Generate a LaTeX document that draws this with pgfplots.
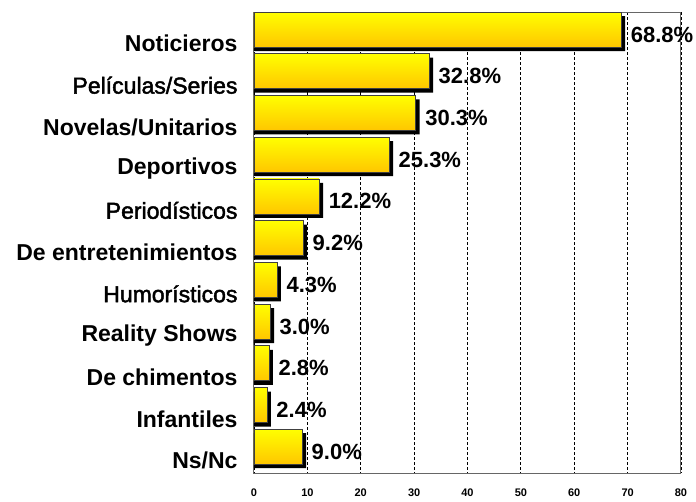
\documentclass[border=0pt]{standalone}
\usepackage{pgfplots}
\usepackage{pgfplotstable}
\pgfplotsset{compat=1.18}
\usepackage{fontspec}
\setmainfont{Liberation Sans}
\newfontfamily\semib[FakeBold=2]{Liberation Sans}
\definecolor{barbot}{RGB}{255,198,0}
\definecolor{bartop}{RGB}{255,255,0}
\pgfplotstableread{
i v
0 68.8
1 32.8
2 30.3
3 25.3
4 12.2
5 9.2
6 4.3
7 3.0
8 2.8
9 2.4
10 9.0
}\data
\begin{document}
\begin{tikzpicture}
\begin{axis}[
  at={(254pt,28pt)}, anchor=south west,
  scale only axis, width=427pt, height=461pt,
  xbar, bar width=35pt,
  xmin=0, xmax=80, ymin=-0.42, ymax=10.63,
  y dir=reverse,
  ytick={0,...,10},
  yticklabels={\textbf{Noticieros},{\semib Películas/Series},\textbf{Novelas/Unitarios},\textbf{Deportivos},{\semib Periodísticos},\textbf{De entretenimientos},{\semib Humorísticos},\textbf{Reality Shows},\textbf{De chimentos},\textbf{Infantiles},\textbf{Ns/Nc}},
  yticklabel style={font=\fontsize{23}{26}\selectfont, xshift=-13pt, yshift=-14pt},
  xtick={0,10,...,80},
  xticklabel style={font=\fontsize{11}{13}\selectfont\bfseries, yshift=-12pt},
  /pgf/number format/assume math mode=true,
  major tick length=0pt,
  xmajorgrids, grid style={black, line width=0.9pt, dash pattern=on 2.5pt off 2.5pt},
  axis line style={black!60, line width=1pt},
  point meta=x,
]
\addplot[fill=black, draw=none, bar shift=-4pt] table[x expr=\thisrow{v}+0.75, y=i] {\data};
\pgfplotsinvokeforeach{0,...,10}{
\addplot[draw=black!75, line width=0.6pt, top color=bartop, bottom color=barbot, bar shift=0pt,
  nodes near coords={\pgfmathprintnumber[fixed,fixed zerofill,precision=1]{\pgfplotspointmeta}\%},
  nodes near coords style={font=\fontsize{22}{26}\selectfont\bfseries, anchor=west, xshift=6pt, yshift=-5pt, black}]
  table[x=v, y=i, restrict expr to domain={\coordindex}{#1:#1}] {\data};
}
\end{axis}
\pgfresetboundingbox
\path (0,0) rectangle (696pt,501pt);
\end{tikzpicture}
\end{document}
